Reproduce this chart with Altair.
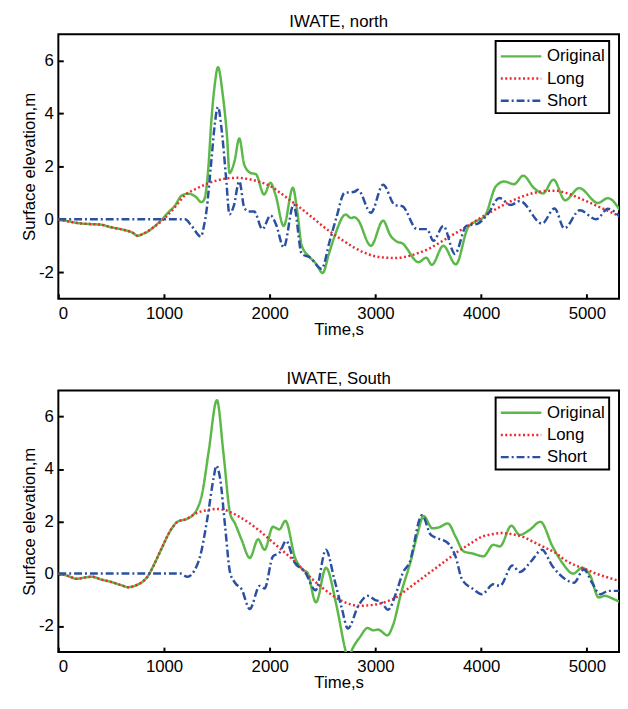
import altair as alt
import pandas as pd

FONT = "Liberation Sans"
SERIES = ["Original", "Long", "Short"]
COLORS = ["#5cb848", "#ee2a2e", "#2b50a2"]
DASHES = [[1, 0], [2, 2.5], [8, 3, 2, 3]]
X_TICKS = [0, 1000, 2000, 3000, 4000, 5000]
Y_TICKS = [-2, 0, 2, 4, 6]
X_MAX = 5304
PLOT_W = 568

# ---------------- IWATE, north ----------------
north_orig_t = [0, 100, 200, 300, 400, 500, 600, 700, 750, 800, 856, 900, 980, 1050, 1100, 1167,
                1230, 1300, 1354, 1380, 1420, 1447, 1480, 1510, 1556, 1597, 1619, 1666, 1712, 1759,
                1821, 1868, 1946, 2007, 2054, 2132, 2219, 2260, 2303, 2381, 2440, 2500, 2560, 2615,
                2717, 2770, 2800, 2830, 2957, 3072, 3140, 3206, 3250, 3408, 3480, 3533, 3642, 3760,
                3875, 3937, 4031, 4140, 4218, 4311, 4398, 4498, 4585, 4684, 4794, 4927, 5105, 5198, 5320]
north_orig_y = [0, -0.08, -0.15, -0.18, -0.2, -0.3, -0.38, -0.5, -0.62, -0.55, -0.44, -0.3, 0.0, 0.3,
                0.5, 0.9, 0.97, 0.85, 0.65, 0.75, 2.0, 3.69, 5.1, 5.75, 4.69, 3.06, 1.75, 2.19, 3.06,
                2.06, 1.75, 1.71, 0.94, 1.38, 0.94, -0.25, 1.19, 0.3, -1.0, -1.44, -1.69, -2.03, -1.3,
                -0.62, 0.18, 0.05, 0.08, 0.0, -1.0, -0.05, -0.6, -0.85, -0.9, -1.62, -1.45, -1.72, -1.0,
                -1.7, -0.31, -0.1, 0.1, 1.25, 1.43, 1.33, 1.65, 1.19, 0.98, 1.5, 0.72, 1.18, 0.62, 0.8, 0.3]

north_long_t = [0, 100, 200, 300, 400, 500, 600, 700, 750, 800, 900, 1000, 1100, 1200, 1300, 1400,
                1500, 1600, 1700, 1800, 1900, 2000, 2100, 2200, 2300, 2400, 2500, 2600, 2700, 2800,
                2900, 3000, 3100, 3200, 3300, 3400, 3500, 3600, 3700, 3800, 3900, 4000, 4100, 4200,
                4300, 4400, 4500, 4600, 4700, 4800, 4900, 5000, 5100, 5200, 5320]
north_long_y = [0, -0.08, -0.15, -0.18, -0.2, -0.3, -0.38, -0.5, -0.62, -0.55, -0.3, 0.02, 0.45, 0.92,
                1.15, 1.33, 1.47, 1.55, 1.57, 1.52, 1.42, 1.27, 1.0, 0.7, 0.4, 0.08, -0.25, -0.55,
                -0.82, -1.07, -1.27, -1.4, -1.45, -1.46, -1.4, -1.28, -1.12, -0.9, -0.66, -0.42, -0.18,
                0.07, 0.3, 0.52, 0.72, 0.88, 1.0, 1.07, 1.08, 1.0, 0.85, 0.68, 0.5, 0.32, 0.1]

north_short_t = [0, 1200, 1261, 1348, 1380, 1401, 1447, 1479, 1510, 1547, 1587, 1619, 1659, 1712,
                 1759, 1800, 1852, 1930, 2007, 2060, 2132, 2226, 2303, 2381, 2490, 2568, 2630, 2708,
                 2801, 2833, 2957, 3072, 3184, 3253, 3393, 3486, 3548, 3642, 3751, 3860, 3968, 4062,
                 4171, 4280, 4367, 4575, 4694, 4787, 4933, 5089, 5198, 5320]
north_short_y = [0, 0, -0.25, -0.65, -0.2, 0.31, 2.19, 3.56, 4.25, 3.31, 1.56, 0.19, 0.5, 1.44, 0.44,
                 0.3, 0.3, -0.37, 0.15, -0.2, -1.06, 0.56, -1.31, -1.44, -1.87, -0.81, 0.06, 1.0,
                 1.04, 1.12, 0.25, 1.31, 0.54, 0.5, -0.37, -0.37, -0.81, -0.25, -1.31, -0.25, -0.16,
                 0.19, 0.81, 0.54, 0.69, -0.16, 0.41, -0.34, 0.34, 0.0, 0.4, 0.06]

# ---------------- IWATE, South ----------------
south_orig_t = [0, 100, 170, 250, 320, 400, 500, 600, 660, 750, 800, 850, 900, 971, 1064, 1127,
                1220, 1298, 1360, 1423, 1500, 1563, 1625, 1671, 1734, 1811, 1890, 1951, 2030, 2091,
                2148, 2240, 2310, 2357, 2437, 2532, 2630, 2714, 2740, 2777, 2854, 2926, 2979, 3025,
                3113, 3165, 3244, 3337, 3399, 3455, 3539, 3601, 3685, 3757, 3835, 3928, 4021, 4115,
                4177, 4286, 4364, 4458, 4560, 4675, 4768, 4871, 4955, 5033, 5111, 5173, 5240, 5320]
south_orig_y = [0, -0.1, -0.2, -0.15, -0.12, -0.22, -0.32, -0.45, -0.52, -0.42, -0.3, -0.08, 0.3,
                0.91, 1.67, 1.98, 2.1, 2.36, 3.05, 4.69, 6.63, 4.56, 2.3, 1.92, 1.29, 0.6, 1.31, 0.91,
                1.79, 1.69, 2.02, 0.6, 0.16, 0.03, -1.1, 0.22, -1.2, -2.9, -3.3, -2.92, -2.42, -2.08,
                -2.17, -2.14, -2.36, -1.98, -0.72, 0.53, 1.54, 2.2, 1.73, 1.77, 1.92, 1.42, 0.85, 0.76,
                0.66, 1.1, 1.04, 1.83, 1.48, 1.67, 1.98, 1.04, 0.41, 0.0, 0.22, -0.09, -0.91, -0.85,
                -0.95, -1.1]

south_long_t = [0, 100, 170, 250, 320, 400, 500, 600, 660, 750, 800, 850, 900, 971, 1064, 1127, 1220,
                1300, 1400, 1500, 1600, 1700, 1800, 1900, 2000, 2100, 2200, 2300, 2400, 2500, 2600,
                2700, 2850, 3000, 3100, 3200, 3300, 3400, 3500, 3600, 3700, 3800, 3900, 4000, 4100,
                4200, 4300, 4400, 4500, 4600, 4700, 4800, 4900, 5000, 5100, 5200, 5320]
south_long_y = [0, -0.1, -0.2, -0.15, -0.12, -0.22, -0.32, -0.45, -0.52, -0.42, -0.3, -0.08, 0.3, 0.91,
                1.67, 1.98, 2.1, 2.3, 2.42, 2.47, 2.4, 2.2, 1.95, 1.65, 1.3, 0.95, 0.6, 0.2, -0.2,
                -0.55, -0.85, -1.08, -1.23, -1.18, -1.08, -0.9, -0.6, -0.3, 0.0, 0.3, 0.6, 0.9, 1.15,
                1.4, 1.5, 1.55, 1.5, 1.4, 1.2, 1.0, 0.8, 0.5, 0.3, 0.15, -0.02, -0.15, -0.3]

south_short_t = [0, 1155, 1220, 1283, 1345, 1407, 1470, 1494, 1531, 1578, 1625, 1671, 1734, 1811, 1905,
                 1951, 2030, 2091, 2154, 2232, 2333, 2434, 2531, 2610, 2683, 2739, 2838, 2926, 2994,
                 3057, 3119, 3197, 3259, 3321, 3440, 3524, 3586, 3679, 3757, 3819, 3928, 4006, 4115,
                 4177, 4295, 4364, 4472, 4575, 4675, 4799, 4877, 4971, 5049, 5126, 5205, 5320]
south_short_y = [0, 0, -0.12, 0.09, 0.72, 2.04, 3.68, 4.12, 3.62, 1.79, 0.03, -0.35, -0.6, -1.35, -0.47,
                 -0.57, 0.66, 0.79, 1.25, 0.45, 0.06, -0.64, 0.91, -0.2, -1.35, -2.1, -1.23, -0.85,
                 -1.0, -1.1, -1.38, -0.72, 0.03, 0.41, 2.23, 1.48, 1.35, 1.19, 0.66, -0.22, -0.6,
                 -0.79, -0.41, -0.47, 0.31, 0.06, 0.47, 0.91, 0.28, -0.22, -0.35, 0.16, -0.35, -0.79,
                 -0.66, -0.66]


def frame(series):
    rows = []
    for name, (ts, ys) in zip(SERIES, series):
        for t, y in zip(ts, ys):
            rows.append({"t": t, "y": y, "series": name})
    return pd.DataFrame(rows)


north_df = frame([(north_orig_t, north_orig_y), (north_long_t, north_long_y), (north_short_t, north_short_y)])
south_df = frame([(south_orig_t, south_orig_y), (south_long_t, south_long_y), (south_short_t, south_short_y)])


def panel(df, title, height, lx, ly):
    xs = alt.Scale(domain=[0, X_MAX], nice=False, zero=False)
    ys = alt.Scale(domain=[-3, 7], nice=False, zero=False)
    legend = alt.Legend(
        orient="none", legendX=lx, legendY=ly, title=None,
        strokeColor="black", fillColor="white", padding=4,
        symbolType="M-1,0H3", symbolSize=420, symbolStrokeWidth=2.5,
        labelFont=FONT, labelFontSize=17, labelColor="black", labelOffset=25,
        rowPadding=2.5,
    )
    return alt.Chart(df).mark_line(strokeWidth=2.5, clip=True, interpolate="monotone").encode(
        x=alt.X("t:Q", scale=xs, axis=alt.Axis(
            orient="bottom", values=X_TICKS, labelExpr="'' + datum.value", title="Time,s", grid=False,
            domain=False,
            ticks=True, tickSize=alt.ExprRef(expr="-5"), tickWidth=2, tickColor="black",
            labelPadding=12, labelFont=FONT, labelFontSize=17, labelColor="black",
            titleFont=FONT, titleFontSize=17, titleFontWeight="normal", titleColor="black",
            titlePadding=0)),
        y=alt.Y("y:Q", scale=ys, axis=alt.Axis(
            orient="left", values=Y_TICKS, labelExpr="'' + datum.value", title="Surface elevation,m",
            grid=False, domain=False,
            ticks=True, tickSize=alt.ExprRef(expr="-5"), tickWidth=2, tickColor="black",
            labelPadding=10, labelFont=FONT, labelFontSize=17, labelColor="black",
            titleFont=FONT, titleFontSize=17, titleFontWeight="normal", titleColor="black",
            titlePadding=0)),
        color=alt.Color("series:N", scale=alt.Scale(domain=SERIES, range=COLORS), legend=legend),
        strokeDash=alt.StrokeDash("series:N", scale=alt.Scale(domain=SERIES, range=DASHES), legend=legend),
    ).properties(
        width=PLOT_W, height=height,
        title=alt.TitleParams(text=title, font=FONT, fontSize=17, fontWeight="normal", color="black",
                              anchor="middle", offset=3),
    )


top = panel(north_df, "IWATE, north", 268, 443, 7)
bottom = panel(south_df, "IWATE, South", 265, 443, 7)

chart = alt.vconcat(top, bottom, spacing=31).resolve_scale(
    color="independent", strokeDash="independent"
).properties(
    padding={"left": 11, "top": 0, "right": 0, "bottom": 0}
).configure_view(stroke="black", strokeWidth=2).configure_legend(strokeWidth=2)

chart.save("out.html", embed_options={"renderer": "svg", "actions": False})
